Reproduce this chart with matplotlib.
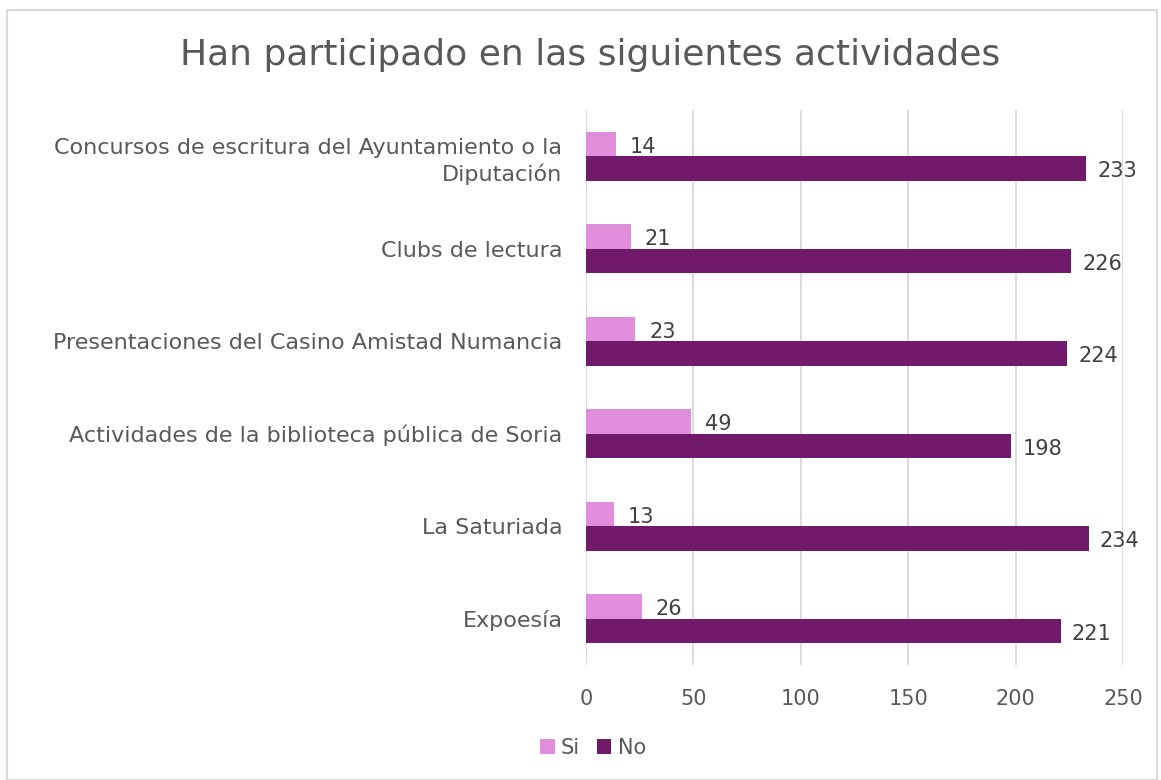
import matplotlib
matplotlib.use("Agg")
import matplotlib.pyplot as plt
import numpy as np
from matplotlib.patches import Rectangle

categories = [
    "Concursos de escritura del Ayuntamiento o la\nDiputación",
    "Clubs de lectura",
    "Presentaciones del Casino Amistad Numancia",
    "Actividades de la biblioteca pública de Soria",
    "La Saturiada",
    "Expoesía",
]
si_values = [14, 21, 23, 49, 13, 26]
no_values = [233, 226, 224, 198, 234, 221]
x_ticks = [0, 50, 100, 150, 200, 250]

SI_COLOR = "#E08DDB"
NO_COLOR = "#711A6B"
TEXT = "#595959"
LABEL = "#404040"

plt.rcParams['font.family'] = ['DejaVu Sans']

fig = plt.figure(figsize=(11.61, 7.8), dpi=100)
ax = fig.add_axes([586/1161, 1-665/780, (1123-586)/1161, (665-110)/780])

n = len(categories)
y = np.arange(n)
h = 0.263
ax.barh(y - h/2, si_values, height=h, color=SI_COLOR, label="Si", zorder=3)
ax.barh(y + h/2, no_values, height=h, color=NO_COLOR, label="No", zorder=3)

for yi, v in zip(y, si_values):
    ax.annotate(str(v), (v, yi - h/2), xytext=(10, -2), textcoords="offset points",
                va="center", ha="left", fontsize=15, color=LABEL)
for yi, v in zip(y, no_values):
    ax.annotate(str(v), (v, yi + h/2), xytext=(8, -2), textcoords="offset points",
                va="center", ha="left", fontsize=15, color=LABEL)

ax.set_xlim(0, 250)
ax.set_ylim(n - 0.5, -0.5)
ax.set_xticks(x_ticks)
ax.set_xticklabels([str(t) for t in x_ticks], fontsize=15, color=TEXT)
ax.set_yticks(y)
ax.set_yticklabels(categories, fontsize=16, color=TEXT, ha="right",
                   multialignment="right", linespacing=1.35)
ax.tick_params(axis="both", length=0)
ax.tick_params(axis="x", pad=17)
ax.tick_params(axis="y", pad=17)
ax.grid(axis="x", color="#D9D9D9", linewidth=1.3, zorder=0)
for s in ax.spines.values():
    s.set_visible(False)

fig.text(590/1161, 1-55/780, "Han participado en las siguientes actividades",
         ha="center", va="center", fontsize=26, color=TEXT)

leg = fig.legend(loc="center", bbox_to_anchor=(593/1161, 1-748/780), ncol=2, frameon=False,
                 fontsize=15, handlelength=0.7, handleheight=0.7, handletextpad=0.3,
                 columnspacing=0.8)
for t in leg.get_texts():
    t.set_color(TEXT)

fig.patches.append(Rectangle((7/1161, 0), (1157-7)/1161, 1-10/780, transform=fig.transFigure,
                             fill=False, edgecolor="#D9D9D9", linewidth=1.5))

fig.savefig("out.png", dpi=100)
